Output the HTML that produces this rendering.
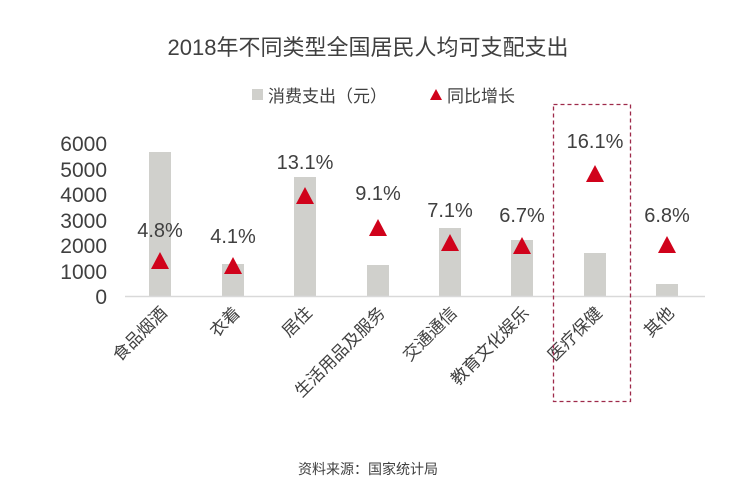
<!DOCTYPE html>
<html><head><meta charset="utf-8"><style>
body{margin:0;background:#fff;}
svg{display:block;font-family:"Liberation Sans","Noto Sans CJK SC",sans-serif;}
</style></head><body>
<svg width="735" height="493" viewBox="0 0 735 493">
<text x="368" y="55" font-size="22" fill="#404040" text-anchor="middle">2018年不同类型全国居民人均可支配支出</text>
<rect x="252" y="89" width="11" height="11" fill="#d0d0cc"/>
<text x="268" y="102" font-size="17" fill="#404040">消费支出（元）</text>
<polygon points="436,89 442,100 430,100" fill="#d0021b"/>
<text x="447" y="102" font-size="17" fill="#404040">同比增长</text>
<g font-size="21" fill="#404040" text-anchor="end">
<text x="107" y="151">6000</text><text x="107" y="177">5000</text><text x="107" y="202">4000</text>
<text x="107" y="228">3000</text><text x="107" y="253">2000</text><text x="107" y="279">1000</text><text x="107" y="304">0</text>
</g>
<g fill="#d0d0cc">
<rect x="149" y="152" width="22" height="144"/>
<rect x="222" y="264" width="22" height="32"/>
<rect x="294" y="177" width="22" height="119"/>
<rect x="367" y="265" width="22" height="31"/>
<rect x="439" y="228" width="22" height="68"/>
<rect x="511" y="240" width="22" height="56"/>
<rect x="584" y="253" width="22" height="43"/>
<rect x="656" y="284" width="22" height="12"/>
</g>
<line x1="125" y1="296.5" x2="705" y2="296.5" stroke="#d9d9d9" stroke-width="1.5"/>
<g fill="#d0021b">
<polygon points="160,252 169,269 151,269"/>
<polygon points="233,257 242,274 224,274"/>
<polygon points="305,187 314,204 296,204"/>
<polygon points="378,219 387,236 369,236"/>
<polygon points="450,234 459,251 441,251"/>
<polygon points="522,237 531,254 513,254"/>
<polygon points="595,165 604,182 586,182"/>
<polygon points="667,236 676,253 658,253"/>
</g>
<g font-size="20" fill="#404040" text-anchor="middle">
<text x="160" y="237">4.8%</text><text x="233" y="243">4.1%</text><text x="305" y="169">13.1%</text>
<text x="378" y="200">9.1%</text><text x="450" y="217">7.1%</text><text x="522" y="222">6.7%</text>
<text x="595" y="148">16.1%</text><text x="667" y="222">6.8%</text>
</g>
<g font-size="17" fill="#404040" text-anchor="end">
<text transform="translate(168,314) rotate(-45)">食品烟酒</text>
<text transform="translate(241,314) rotate(-45)">衣着</text>
<text transform="translate(313,314) rotate(-45)">居住</text>
<text transform="translate(386,314) rotate(-45)">生活用品及服务</text>
<text transform="translate(458,314) rotate(-45)">交通通信</text>
<text transform="translate(530,314) rotate(-45)">教育文化娱乐</text>
<text transform="translate(603,314) rotate(-45)">医疗保健</text>
<text transform="translate(675,314) rotate(-45)">其他</text>
</g>
<rect x="553.5" y="104.5" width="77" height="297" fill="none" stroke="#9e2a4a" stroke-width="1.3" stroke-dasharray="4,3"/>
<text x="368" y="474" font-size="14" fill="#404040" text-anchor="middle">资料来源：国家统计局</text>
</svg>
</body></html>
